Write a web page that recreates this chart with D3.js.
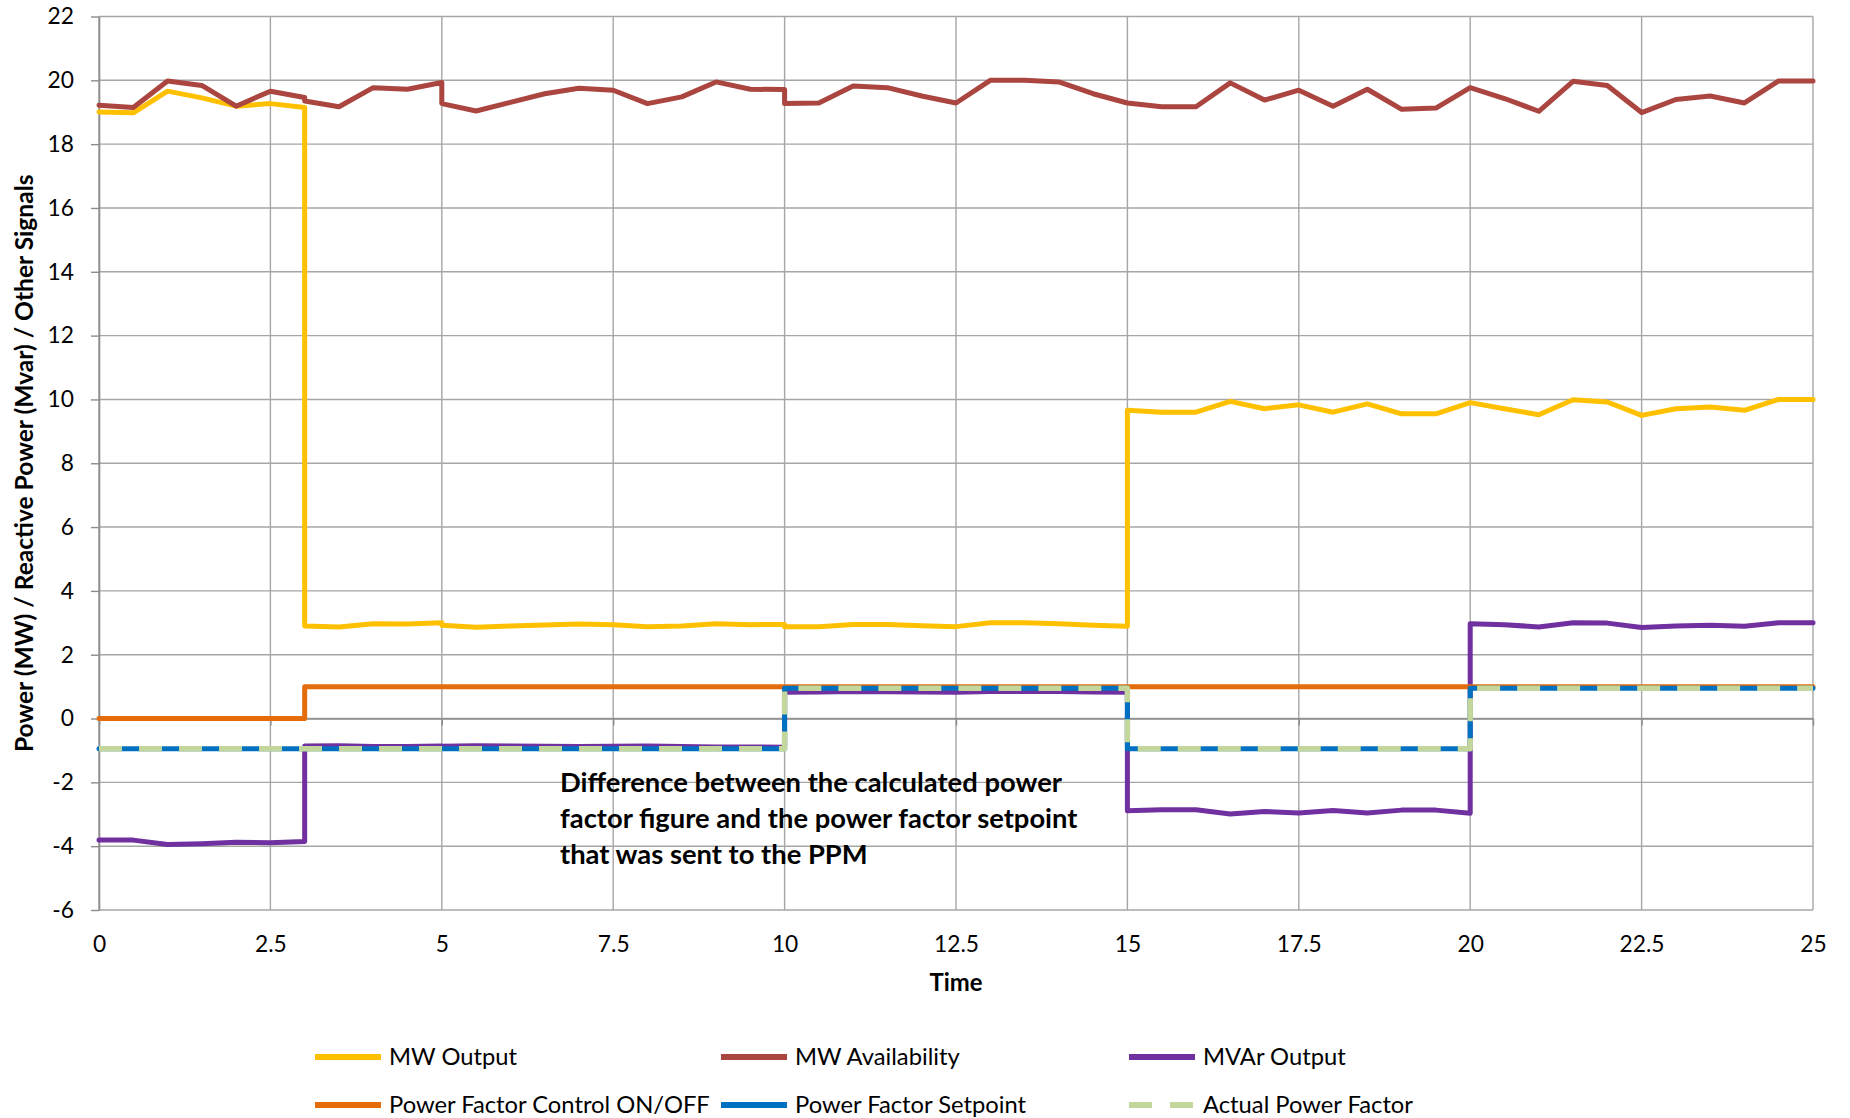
<!DOCTYPE html>
<html><head><meta charset="utf-8">
<script src="https://cdn.jsdelivr.net/npm/d3@7"></script>
<style>
body{margin:0;background:#fff}
svg{display:block}
text{font-family:Lato,'Open Sans',sans-serif;fill:#000}
</style>
</head><body>
<svg id="chart" width="1850" height="1118"></svg>
<script>
// ---------------- DATA ----------------
const time = [0,0.5,1,1.5,2,2.5,3,3,3.5,4,4.5,5,5,5.5,6,6.5,7,7.5,8,8.5,9,9.5,10,10,10.5,11,11.5,12,12.5,13,13.5,14,14.5,15,15,15.5,16,16.5,17,17.5,18,18.5,19,19.5,20,20,20.5,21,21.5,22,22.5,23,23.5,24,24.5,25];

const mwOutput = [19.01,18.98,19.66,19.45,19.19,19.27,19.15,2.90,2.87,2.97,2.96,3.00,2.92,2.86,2.90,2.93,2.96,2.94,2.88,2.90,2.97,2.94,2.95,2.88,2.88,2.95,2.95,2.91,2.88,3.00,3.00,2.97,2.92,2.89,9.66,9.60,9.60,9.94,9.71,9.83,9.60,9.86,9.55,9.55,9.90,9.90,9.71,9.52,9.99,9.92,9.50,9.71,9.76,9.66,10.00,10.00];

const mwAvailability = [19.22,19.15,19.98,19.84,19.19,19.66,19.46,19.35,19.17,19.77,19.72,19.93,19.27,19.04,19.31,19.58,19.75,19.69,19.27,19.48,19.95,19.72,19.71,19.27,19.29,19.82,19.77,19.51,19.29,20.00,20.00,19.95,19.58,19.29,19.29,19.17,19.17,19.92,19.38,19.69,19.19,19.72,19.09,19.13,19.77,19.77,19.43,19.03,19.97,19.84,18.99,19.40,19.51,19.29,19.98,19.98];

const mvarOutput = [-3.81,-3.81,-3.95,-3.92,-3.88,-3.89,-3.85,-0.86,-0.85,-0.88,-0.88,-0.86,-0.87,-0.85,-0.86,-0.87,-0.88,-0.87,-0.86,-0.88,-0.89,-0.89,-0.90,0.82,0.83,0.85,0.84,0.83,0.82,0.85,0.85,0.85,0.83,0.82,-2.89,-2.86,-2.86,-2.99,-2.91,-2.96,-2.88,-2.96,-2.87,-2.87,-2.97,2.97,2.94,2.87,3.00,2.99,2.85,2.90,2.92,2.89,3.00,3.00];

const pfControl = [0,0,0,0,0,0,0,1,1,1,1,1,1,1,1,1,1,1,1,1,1,1,1,1,1,1,1,1,1,1,1,1,1,1,1,1,1,1,1,1,1,1,1,1,1,1,1,1,1,1,1,1,1,1,1,1];

const pfSetpoint = [-0.95,-0.95,-0.95,-0.95,-0.95,-0.95,-0.95,-0.95,-0.95,-0.95,-0.95,-0.95,-0.95,-0.95,-0.95,-0.95,-0.95,-0.95,-0.95,-0.95,-0.95,-0.95,-0.95,0.95,0.95,0.95,0.95,0.95,0.95,0.95,0.95,0.95,0.95,0.95,-0.95,-0.95,-0.95,-0.95,-0.95,-0.95,-0.95,-0.95,-0.95,-0.95,-0.95,0.95,0.95,0.95,0.95,0.95,0.95,0.95,0.95,0.95,0.95,0.95];

const actualPF = [-0.95,-0.95,-0.95,-0.95,-0.95,-0.95,-0.95,-0.95,-0.95,-0.95,-0.95,-0.95,-0.95,-0.95,-0.95,-0.95,-0.95,-0.95,-0.95,-0.95,-0.95,-0.95,-0.95,0.95,0.95,0.95,0.95,0.95,0.95,0.95,0.95,0.95,0.95,0.95,-0.95,-0.95,-0.95,-0.95,-0.95,-0.95,-0.95,-0.95,-0.95,-0.95,-0.95,0.95,0.95,0.95,0.95,0.95,0.95,0.95,0.95,0.95,0.95,0.95];

const seriesNames = ["MW Output","MW Availability","MVAr Output","Power Factor Control ON/OFF","Power Factor Setpoint","Actual Power Factor"];
const yTicks = [-6,-4,-2,0,2,4,6,8,10,12,14,16,18,20,22];
const xTicks = [0,2.5,5,7.5,10,12.5,15,17.5,20,22.5,25];
const xTickLabels = ["0","2.5","5","7.5","10","12.5","15","17.5","20","22.5","25"];
const xTitle = "Time";
const yTitle = "Power (MW) / Reactive Power (Mvar) / Other Signals";
const annotationLines = ["Difference between the calculated power","factor figure and the power factor setpoint","that was sent to the PPM"];

// ---------------- STYLES ----------------
const seriesValues = [mwOutput, mwAvailability, mvarOutput, pfControl, pfSetpoint, actualPF];
const colors = ["#FFC000","#AB4540","#7030A0","#E46C0A","#0070C0","#C3D69B"];
const dashes = [null,null,null,null,null,"23 17"];

const svg = d3.select("#chart");
const PL=99, PR=1813, PT=16.5, PB=910;
const x = d3.scaleLinear().domain([0,25]).range([PL,PR]);
const y = d3.scaleLinear().domain([-6,22]).range([PB,PT]);

const GRID="#A6A6A6";
// grid
const g = svg.append("g");
g.selectAll(".hg").data(yTicks).join("line")
  .attr("x1",PL).attr("x2",PR).attr("y1",d=>y(d)).attr("y2",d=>y(d))
  .attr("stroke",GRID).attr("stroke-width",1.4);
g.selectAll(".vg").data(xTicks).join("line")
  .attr("y1",PT).attr("y2",PB).attr("x1",d=>x(d)).attr("x2",d=>x(d))
  .attr("stroke",GRID).attr("stroke-width",1.4);

// y axis
const yAxis = svg.append("g").attr("transform",`translate(${PL},0)`)
  .call(d3.axisLeft(y).tickValues(yTicks).tickSize(8).tickSizeOuter(0).tickPadding(17).tickFormat(d=>d));
yAxis.select(".domain").attr("stroke","#8C8C8C").attr("stroke-width",1.6);
yAxis.selectAll(".tick line").attr("stroke","#8C8C8C").attr("stroke-width",1.4);

// x axis line at zero with tick marks
const xAxis0 = svg.append("g").attr("transform",`translate(0,${y(0)})`)
  .call(d3.axisBottom(x).tickValues(xTicks).tickSize(7).tickSizeOuter(0).tickFormat(""));
xAxis0.select(".domain").attr("stroke","#8C8C8C").attr("stroke-width",1.6);
xAxis0.selectAll(".tick line").attr("stroke","#8C8C8C").attr("stroke-width",1.4);

// x labels at bottom
const xLab = svg.append("g").attr("transform",`translate(0,${PB})`)
  .call(d3.axisBottom(x).tickValues(xTicks).tickSize(0).tickFormat((d,i)=>xTickLabels[i]));
xLab.select(".domain").remove();
xLab.selectAll("text").attr("y",34).attr("dy","0.35em");

const tickTexts = svg.selectAll(".tick text").attr("font-family","Lato").attr("fill","#000");
// fit tick font size so that "22.5" is ~45px wide
let ref = xLab.selectAll("text").filter((d,i)=>i===9).node();
tickTexts.style("font-size","22px");
let w = ref.getComputedTextLength();
tickTexts.style("font-size",(22*45/w)+"px");

// lines
const pts = time.map((t,i)=>i);
const lineGen = vals => d3.line().x(i=>x(time[i])).y(i=>y(vals[i]))(pts);
seriesValues.forEach((vals,k)=>{
  svg.append("path").attr("d",lineGen(vals)).attr("fill","none")
    .attr("stroke",colors[k]).attr("stroke-width",k===5?5.5:5)
    .attr("stroke-linejoin","round").attr("stroke-linecap",dashes[k]?"butt":"round")
    .attr("stroke-dasharray",dashes[k]);
});

// annotation
const ann = svg.append("g");
annotationLines.forEach((s,i)=>{
  ann.append("text").attr("x",560).attr("y",782+i*36).attr("dy","0.35em")
    .attr("font-weight","bold").style("font-size","23px").text(s);
});
w = ann.select("text").node().getComputedTextLength();
ann.selectAll("text").style("font-size",(23*502/w)+"px");

// axis titles
const xt = svg.append("text").attr("x",(PL+PR)/2).attr("y",983).attr("dy","0.35em")
  .attr("text-anchor","middle").attr("font-weight","bold").style("font-size","22px").text(xTitle);
w = xt.node().getComputedTextLength(); xt.style("font-size",(22*53/w)+"px");

const yt = svg.append("text").attr("transform",`translate(24,${(PT+PB)/2}) rotate(-90)`).attr("dy","0.35em")
  .attr("text-anchor","middle").attr("font-weight","bold").style("font-size","20px").text(yTitle);
w = yt.node().getComputedTextLength(); yt.style("font-size",(20*578/w)+"px");

// legend
const legCols = [315,721,1129], legRows=[1057,1105];
const leg = svg.append("g");
seriesNames.forEach((n,k)=>{
  const cx = legCols[k%3], cy = legRows[Math.floor(k/3)];
  if(dashes[k]){
    leg.append("line").attr("x1",cx).attr("x2",cx+64).attr("y1",cy).attr("y2",cy)
      .attr("stroke",colors[k]).attr("stroke-width",6).attr("stroke-dasharray","23 18");
  } else {
    leg.append("line").attr("x1",cx).attr("x2",cx+66).attr("y1",cy).attr("y2",cy)
      .attr("stroke",colors[k]).attr("stroke-width",6);
  }
  leg.append("text").attr("class","lt").attr("x",cx+74).attr("y",cy).attr("dy","0.35em")
    .style("font-size","22px").text(n);
});
const lref = leg.selectAll(".lt").filter((d,i)=>i===3).node();
w = lref.getComputedTextLength();
leg.selectAll(".lt").style("font-size",(22*321/w)+"px");
</script>
</body></html>
